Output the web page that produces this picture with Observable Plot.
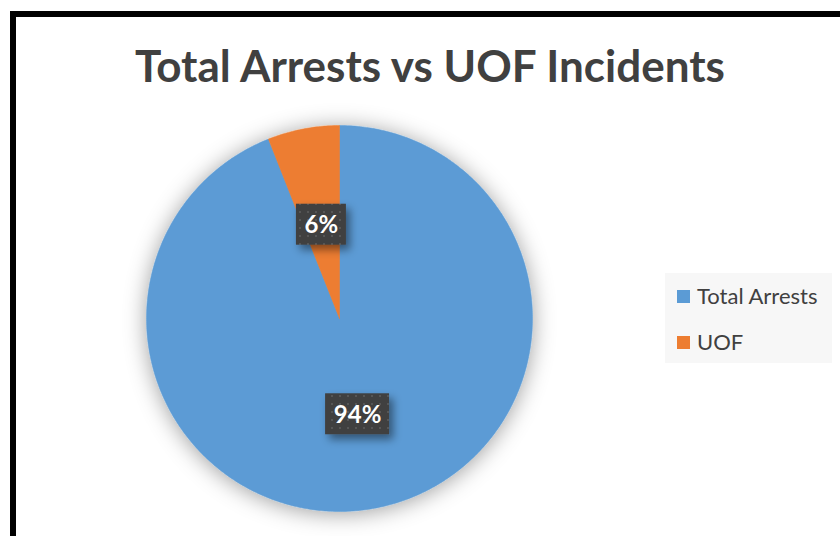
<!DOCTYPE html>
<html>
<head>
<meta charset="utf-8">
<script src="https://cdn.jsdelivr.net/npm/d3@7"></script>
<script src="https://cdn.jsdelivr.net/npm/@observablehq/plot@0.6"></script>
<style>
  html, body { margin: 0; padding: 0; background: #fff; }
  #wrap { position: relative; width: 840px; height: 536px; overflow: hidden; font-family: Lato, Carlito, "Open Sans", sans-serif; }
  #frame { position: absolute; left: 10px; top: 11px; width: 1000px; height: 800px; border-left: 6px solid #000; border-top: 6px solid #000; box-sizing: border-box; }
  #title { position: absolute; left: 0; width: 860px; top: 43px; text-align: center; font-weight: 700; font-size: 44px; color: #404040; line-height: 1; white-space: nowrap; }
  #legend { position: absolute; left: 665px; top: 273px; width: 167px; height: 90px; background: #f7f7f7; }
  .item { position: absolute; left: 12px; display: flex; align-items: center; font-size: 22px; color: #404040; white-space: nowrap; line-height: 1; }
  .sw { width: 13px; height: 13px; margin-right: 7px; }
  #chart { position: absolute; left: 0; top: 0; }
</style>
</head>
<body>
<div id="wrap">
  <div id="frame"></div>
  <div id="chart"></div>
  <div id="title">Total Arrests vs UOF Incidents</div>
  <div id="legend"></div>
</div>
<script>
// ---- data ----
const categories = ["Total Arrests", "UOF"];
const shares = [94, 6];
const labels = ["94%", "6%"];
const colors = ["#5B9BD5", "#ED7D31"];

// ---- layout ----
const W = 840, H = 536;
const cx = 339, cy = 318, R = 193;   // pie centre / radius in pixels

const rows = categories.map((c, i) => ({category: c, share: shares[i], label: labels[i], color: colors[i]}));
const arcs = d3.pie().sort(null).value(d => d.share)(rows);

// outline of each slice on the unit circle (angle 0 at 12 o'clock, clockwise)
const slices = arcs.map(a => {
  const n = Math.max(8, Math.ceil((a.endAngle - a.startAngle) / 0.01));
  const pts = [{x: 0, y: 0}];
  for (let k = 0; k <= n; k++) {
    const t = a.startAngle + (a.endAngle - a.startAngle) * k / n;
    pts.push({x: Math.sin(t), y: Math.cos(t)});
  }
  pts.push({x: 0, y: 0});
  return {row: a.data, pts};
});

const lab = arcs.map(a => {
  const m = (a.startAngle + a.endAngle) / 2;
  const w = (22 + 14 * a.data.label.length) / R, h = 41 / R;
  const x = 0.5 * Math.sin(m), y = 0.5 * Math.cos(m) - 1 / R;
  return {label: a.data.label, x, y, x1: x - w / 2, x2: x + w / 2, y1: y - h / 2, y2: y + h / 2};
});

const chart = Plot.plot({
  width: W, height: H,
  margin: 0,
  x: {domain: [-cx / R, (W - cx) / R], axis: null},
  y: {domain: [-(H - cy) / R, cy / R], axis: null},
  marks: [
    ...slices.map(s => Plot.line(s.pts, {x: "x", y: "y", fill: s.row.color, stroke: s.row.color, strokeWidth: 0.5, curve: "linear"})),
    Plot.rect(lab, {x1: "x1", x2: "x2", y1: "y1", y2: "y2", fill: "url(#dots)"}),
    Plot.text(lab, {x: "x", y: "y", text: "label", fill: "white", fontSize: 24, fontWeight: "bold", fontFamily: "Lato, Carlito, sans-serif", dy: 1})
  ]
});

// defs inside the plot's own svg
const ns = "http://www.w3.org/2000/svg";
const defs = document.createElementNS(ns, "defs");
defs.innerHTML = `
  <pattern id="dots" width="8" height="8" patternUnits="userSpaceOnUse">
    <rect width="8" height="8" fill="#404040"/>
    <rect x="3" y="3" width="2" height="2" fill="#575757"/>
  </pattern>
  <filter id="pieShadow" x="-0.3" y="-0.3" width="1.6" height="1.6">
    <feDropShadow dx="0" dy="2" stdDeviation="11" flood-color="#000" flood-opacity="0.38"/>
  </filter>
  <filter id="boxShadow" x="-0.5" y="-0.5" width="2" height="2">
    <feDropShadow dx="4" dy="5" stdDeviation="4" flood-color="#000" flood-opacity="0.45"/>
  </filter>`;
chart.insertBefore(defs, chart.firstChild);

// group the slices so that one shadow is cast by the whole disc
const pieGroups = chart.querySelectorAll('g[aria-label="line"]');
if (pieGroups.length) {
  const pieG = document.createElementNS(ns, "g");
  pieG.setAttribute("filter", "url(#pieShadow)");
  pieGroups[0].parentNode.insertBefore(pieG, pieGroups[0]);
  pieGroups.forEach(g => pieG.appendChild(g));
}
chart.querySelectorAll('g[aria-label="rect"]').forEach(g => g.setAttribute("filter", "url(#boxShadow)"));
document.getElementById("chart").appendChild(chart);

// legend
const leg = document.getElementById("legend");
rows.forEach((r, i) => {
  const it = document.createElement("div");
  it.className = "item";
  it.style.top = (12 + i * 46) + "px";
  it.innerHTML = `<span class="sw" style="background:${r.color}"></span><span>${r.category}</span>`;
  leg.appendChild(it);
});
</script>
</body>
</html>
